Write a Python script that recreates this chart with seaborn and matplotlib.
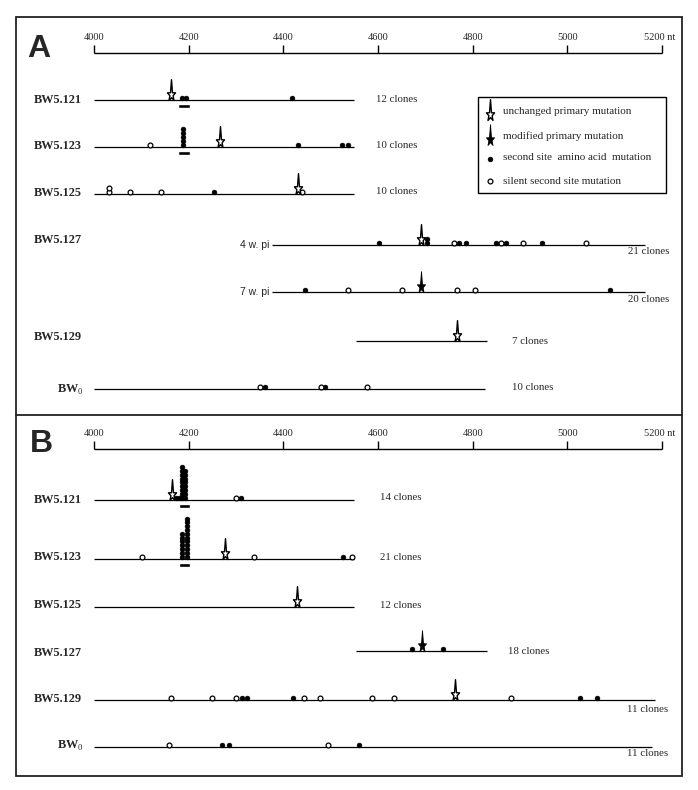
import numpy as np
import pandas as pd
import matplotlib
matplotlib.use("Agg")
import matplotlib.pyplot as plt
import matplotlib.patches as mpatches
from matplotlib.path import Path
import seaborn as sns

# ruler (nt)
ruler_ticks = [4000, 4200, 4400, 4600, 4800, 5000, 5200]

# panel A -- positions in nt, repeated value = stacked clones
a121_span = [4000, 4550]
a121_aa = [4186, 4194, 4419]
a121_silent = []
a121_primary = [4163]
a121_modified = []
a121_block = [4178, 4203]
a121_clones = "12 clones"

a123_span = [4000, 4550]
a123_aa = [4187] * 5 + [4431, 4524, 4537]
a123_silent = [4118]
a123_primary = [4267]
a123_modified = []
a123_block = [4178, 4203]
a123_clones = "10 clones"

a125_span = [4000, 4550]
a125_aa = [4254]
a125_silent = [4032, 4032, 4076, 4142, 4440]
a125_primary = [4430]
a125_modified = []
a125_clones = "10 clones"

a127w4_span = [4376, 5165]
a127w4_aa = [4602, 4703, 4703, 4771, 4786, 4849, 4870, 4946]
a127w4_silent = [4760, 4860, 4906, 5039]
a127w4_primary = [4691]
a127w4_modified = []
a127w4_clones = "21 clones"

a127w7_span = [4376, 5165]
a127w7_aa = [4446, 5090]
a127w7_silent = [4537, 4651, 4767, 4805]
a127w7_primary = []
a127w7_modified = [4691]
a127w7_clones = "20 clones"

a129_span = [4553, 4830]
a129_aa = []
a129_silent = []
a129_primary = [4767]
a129_modified = []
a129_clones = "7 clones"

a0_span = [4000, 4826]
a0_aa = [4361, 4488]
a0_silent = [4351, 4479, 4576]
a0_primary = []
a0_modified = []
a0_clones = "10 clones"

# panel B
b121_span = [4000, 4550]
b121_aa = [4174, 4180] + [4185] * 9 + [4192] * 8 + [4310]
b121_silent = [4300]
b121_primary = [4165]
b121_modified = []
b121_block = [4179, 4203]
b121_clones = "14 clones"

b123_span = [4000, 4550]
b123_aa = [4185] * 7 + [4196] * 11 + [4526]
b123_silent = [4101, 4337, 4545]
b123_primary = [4276]
b123_modified = []
b123_block = [4179, 4203]
b123_clones = "21 clones"

b125_span = [4000, 4550]
b125_aa = []
b125_silent = []
b125_primary = [4428]
b125_modified = []
b125_clones = "12 clones"

b127_span = [4553, 4830]
b127_aa = [4671, 4738]
b127_silent = []
b127_primary = []
b127_modified = [4693]
b127_clones = "18 clones"

b129_span = [4000, 5185]
b129_aa = [4313, 4323, 4421, 5027, 5063]
b129_silent = [4163, 4249, 4300, 4444, 4477, 4587, 4634, 4881]
b129_primary = [4763]
b129_modified = []
b129_clones = "11 clones"

b0_span = [4000, 5179]
b0_aa = [4270, 4286, 4560]
b0_silent = [4158, 4495]
b0_primary = []
b0_modified = []
b0_clones = "11 clones"

legend_labels = ["unchanged primary mutation", "modified primary mutation",
                 "second site  amino acid  mutation", "silent second site mutation"]

# ---- layout (pixels of the 698x790 page) ----
W, H = 698, 790
X0_PX, X1_PX = 94, 662
scale = (X1_PX - X0_PX) / (ruler_ticks[-1] - ruler_ticks[0])
nt_lo = ruler_ticks[0] - X0_PX / scale
nt_hi = ruler_ticks[0] + (W - X0_PX) / scale

# label, label_y, line_y, span, aa, silent, primary, modified, block, clones, clones_xy, sub
rows = [
    ("BW5.121", 100, 100, a121_span, a121_aa, a121_silent, a121_primary, a121_modified, a121_block, a121_clones, (376, 99), None),
    ("BW5.123", 146, 147, a123_span, a123_aa, a123_silent, a123_primary, a123_modified, a123_block, a123_clones, (376, 145), None),
    ("BW5.125", 193, 194, a125_span, a125_aa, a125_silent, a125_primary, a125_modified, None, a125_clones, (376, 192), None),
    ("BW5.127", 240, 245, a127w4_span, a127w4_aa, a127w4_silent, a127w4_primary, a127w4_modified, None, a127w4_clones, (628, 252), "4 w. pi"),
    (None, None, 292, a127w7_span, a127w7_aa, a127w7_silent, a127w7_primary, a127w7_modified, None, a127w7_clones, (628, 300), "7 w. pi"),
    ("BW5.129", 337, 341, a129_span, a129_aa, a129_silent, a129_primary, a129_modified, None, a129_clones, (512, 341), None),
    ("BW$_\\mathrm{0}$", 390, 389, a0_span, a0_aa, a0_silent, a0_primary, a0_modified, None, a0_clones, (512, 387), None),
    ("BW5.121", 500, 500, b121_span, b121_aa, b121_silent, b121_primary, b121_modified, b121_block, b121_clones, (380, 498), None),
    ("BW5.123", 557, 559, b123_span, b123_aa, b123_silent, b123_primary, b123_modified, b123_block, b123_clones, (380, 557), None),
    ("BW5.125", 605, 607, b125_span, b125_aa, b125_silent, b125_primary, b125_modified, None, b125_clones, (380, 605), None),
    ("BW5.127", 653, 651, b127_span, b127_aa, b127_silent, b127_primary, b127_modified, None, b127_clones, (508, 651), None),
    ("BW5.129", 699, 700, b129_span, b129_aa, b129_silent, b129_primary, b129_modified, None, b129_clones, (627, 710), None),
    ("BW$_\\mathrm{0}$", 746, 747, b0_span, b0_aa, b0_silent, b0_primary, b0_modified, None, b0_clones, (627, 754), None),
]

sns.set_style("white")
plt.rcParams["font.family"] = ["Liberation Serif", "DejaVu Serif"]
plt.rcParams["mathtext.fontset"] = "custom"
plt.rcParams["mathtext.rm"] = "Liberation Serif"


def pin_star():
    # star with a long spike on top; base of the marker sits at y=0
    R, r, cy, ky = 4.3, 1.7, 5.6, 1.6
    verts = [(0, 21)]
    for ang, rad in [(54, r), (18, R), (342, r), (306, R), (270, r),
                     (234, R), (198, r), (162, R), (126, r)]:
        a = np.deg2rad(ang)
        verts.append((rad * np.cos(a), cy + rad * np.sin(a) * ky))
    verts.append((0, 21))
    codes = [Path.MOVETO] + [Path.LINETO] * 9 + [Path.CLOSEPOLY]
    return Path(verts, codes)


STAR = pin_star()
STAR_S = 900
DOT_S = 12

fig = plt.figure(figsize=(W / 100, H / 100), dpi=100)
frame = fig.add_axes([0, 0, 1, 1])
frame.set_xlim(0, W)
frame.set_ylim(H, 0)
frame.axis("off")
ax = fig.add_axes([0, 0, 1, 1])
ax.set_xlim(nt_lo, nt_hi)
ax.set_ylim(H, 0)
ax.axis("off")

# page frame and divider
frame.add_patch(mpatches.Rectangle((16, 17), 666, 759, fill=False, lw=1.3, ec="#222222"))
frame.plot([16, 682], [415, 415], color="#222222", lw=1.3)

# panel letters
frame.text(27, 49, "A", fontsize=23, fontweight="bold", family="Liberation Sans", va="center")
frame.text(30, 444, "B", fontsize=23, fontweight="bold", family="Liberation Sans", va="center")

# rulers
for ruler_y in (53, 449):
    ax.hlines(ruler_y, ruler_ticks[0], ruler_ticks[-1], color="black", lw=1.0)
    ax.vlines(ruler_ticks, ruler_y - 8, ruler_y, color="black", lw=1.0)
    for t in ruler_ticks:
        if t == ruler_ticks[-1]:
            ax.annotate(f"{t} nt", xy=(t, ruler_y - 15), xytext=(-2, 0), textcoords="offset points",
                        ha="center", va="center", fontsize=7.5)
        else:
            ax.text(t, ruler_y - 15, str(t), ha="center", va="center", fontsize=7.5)

# build point table
recs = []
for i, (lab, ly, y, span, aa, silent, prim, mod, block, clones, cxy, sub) in enumerate(rows):
    for kind, vals in (("aa", aa), ("silent", silent), ("primary", prim), ("modified", mod)):
        for v in vals:
            recs.append({"row": i, "kind": kind, "nt": v, "base": y})
pts = pd.DataFrame(recs)
pts["level"] = pts.groupby(["row", "kind", "nt"]).cumcount()
is_dot = pts["kind"].isin(["aa", "silent"])
pts["y"] = np.where(is_dot, pts["base"] - 2.4 - 3.8 * pts["level"], pts["base"])

for i, (lab, ly, y, span, aa, silent, prim, mod, block, clones, cxy, sub) in enumerate(rows):
    ax.hlines(y, span[0], span[1], color="black", lw=0.9, zorder=1)
    if block is not None:
        ax.barh(y + 6, block[1] - block[0], left=block[0], height=4, color="black", zorder=1)
    if lab is not None:
        if lab.startswith("BW$"):
            frame.text(57, ly, lab, fontsize=8.8, fontweight="bold", va="center")
        else:
            frame.text(34, ly, lab, fontsize=8.8, fontweight="bold", va="center")
    if sub is not None:
        frame.text(269, y, sub, fontsize=7.5, family="Liberation Sans", ha="right", va="center")
    frame.text(cxy[0], cxy[1], clones, fontsize=7.8, va="center")

sns.scatterplot(data=pts[pts["kind"] == "aa"], x="nt", y="y", marker="o", s=DOT_S,
                color="black", edgecolor="black", linewidth=0.4, ax=ax, legend=False, zorder=3)
sns.scatterplot(data=pts[pts["kind"] == "silent"], x="nt", y="y", marker="o", s=DOT_S,
                color="white", edgecolor="black", linewidth=0.9, ax=ax, legend=False, zorder=3)
sns.scatterplot(data=pts[pts["kind"] == "primary"], x="nt", y="y", marker=STAR, s=STAR_S,
                color="white", edgecolor="black", linewidth=1.0, ax=ax, legend=False, zorder=4)
sns.scatterplot(data=pts[pts["kind"] == "modified"], x="nt", y="y", marker=STAR, s=STAR_S,
                color="black", edgecolor="black", linewidth=0.6, ax=ax, legend=False, zorder=4)
ax.set_xlim(nt_lo, nt_hi)
ax.set_ylim(H, 0)
ax.axis("off")

# legend box
frame.add_patch(mpatches.Rectangle((478, 97), 188, 96, fill=False, lw=1.0, ec="black"))
frame.scatter([490], [120], marker=STAR, s=STAR_S, facecolor="white", edgecolor="black", linewidth=1.0, zorder=4)
frame.scatter([490], [145], marker=STAR, s=STAR_S, facecolor="black", edgecolor="black", linewidth=0.6, zorder=4)
frame.scatter([490], [159], marker="o", s=DOT_S, facecolor="black", edgecolor="black", linewidth=0.4)
frame.scatter([490], [181], marker="o", s=DOT_S, facecolor="white", edgecolor="black", linewidth=0.9)
for ty, txt in zip([112, 136, 158, 181], legend_labels):
    frame.text(503, ty, txt, fontsize=8, va="center")

fig.savefig("out.png", dpi=100, facecolor="white")
